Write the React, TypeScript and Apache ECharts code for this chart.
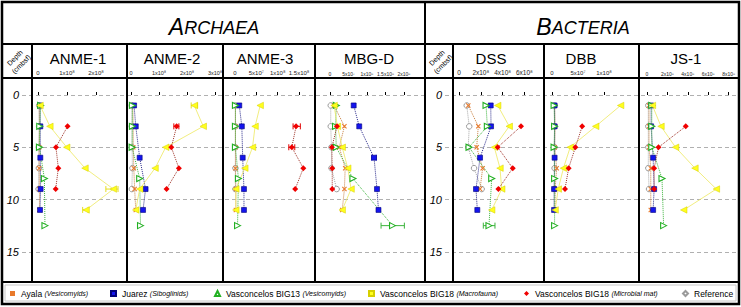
import React, { useEffect, useRef } from "react";
import * as echarts from "echarts";

// ---------- DATA ----------
const SITES = [
  "Ayala (Vesicomyids)",
  "Juarez (Siboglinids)",
  "Vasconcelos BIG13 (Vesicomyids)",
  "Vasconcelos BIG18 (Macrofauna)",
  "Vasconcelos BIG18 (Microbial mat)",
  "Reference",
];

// sampling depths (cmbsf) per site
const DEPTH_AYALA = [1, 3, 5, 7, 9, 11];
const DEPTH_JUAREZ = [1, 3, 6, 9, 11];
const DEPTH_BIG13 = [1, 3, 5, 8, 12.5];
const DEPTH_BIG18_MACRO = [1, 3, 5, 7, 9, 11];
const DEPTH_BIG18_MAT = [3, 5, 7, 9];
const DEPTH_REFERENCE = [1, 3, 5, 7, 9];
const SITE_DEPTHS = [DEPTH_AYALA, DEPTH_JUAREZ, DEPTH_BIG13, DEPTH_BIG18_MACRO, DEPTH_BIG18_MAT, DEPTH_REFERENCE];

const PANEL_NAMES = ["ANME-1", "ANME-2", "ANME-3", "MBG-D", "DSS", "DBB", "JS-1"];
const GROUP_NAMES = ["ARCHAEA", "BACTERIA"];

// gene copies per panel, rows in SITES order, values at SITE_DEPTHS
const ANME1 = [
  [0.04e8, 0.05e8, 0.04e8, 0.04e8, 0.05e8, 0.05e8],
  [0.07e8, 0.08e8, 0.08e8, 0.09e8, 0.07e8],
  [0.09e8, 0.06e8, 0.05e8, 0.22e8, 0.24e8],
  [0.07e8, 0.41e8, 0.99e8, 1.62e8, 2.6e8, 1.66e8],
  [1.02e8, 0.62e8, 0.7e8, 0.61e8],
  [0.04e8, 0.04e8, 0.03e8, 0.03e8, 0.02e8],
];
const ANME2 = [
  [0.06e8, 0.08e8, 0.08e8, 0.1e8, 0.13e8, 0.17e8],
  [0.11e8, 0.17e8, 0.31e8, 0.52e8, 0.43e8],
  [0.05e8, 0.05e8, 0.04e8, 0.31e8, 0.34e8],
  [2.26e8, 2.58e8, 1.24e8, 0.86e8, 0.31e8, 0.17e8],
  [1.63e8, 1.44e8, 1.71e8, 1.27e8],
  [0.03e8, 0.03e8, 0.04e8, 0.05e8, 0.03e8],
];
const ANME3 = [
  [0.01e8, 0.01e8, 0.01e8, 0.01e8, 0.02e8, 0.02e8],
  [0.1e8, 0.16e8, 0.18e8, 0.21e8, 0.21e8],
  [0.01e8, 0.01e8, 0.01e8, 0.08e8, 0.06e8],
  [0.59e8, 0.47e8, 0.41e8, 0.23e8, 0.02e8, 0.02e8],
  [1.43e8, 1.33e8, 1.6e8, 1.41e8],
  [0.01e8, 0.01e8, 0.01e8, 0.01e8, 0.01e8],
];
const MBGD = [
  [0.11e8, 0.39e8, 0.25e8, 0.41e8, 0.39e8, 0.33e8],
  [0.64e8, 0.79e8, 1.19e8, 1.27e8, 1.31e8],
  [0.17e8, 0.15e8, 0.17e8, 0.62e8, 1.69e8],
  [0.11e8, 0.2e8, 0.33e8, 0.48e8, 0.57e8, 0.33e8],
  [0.19e8, 0.05e8, 0.06e8, 0.06e8],
  [0.02e8, 0.02e8, 0.04e8, 0.04e8, 0.18e8],
];
const DSS = [
  [0.85e8, 1.77e8, 1.62e8, 2.17e8, 1.93e8, null],
  [2.91e8, 2.94e8, 1.93e8, 1.56e8, 1.68e8],
  [2.48e8, 2.6e8, 0.92e8, 3.0e8, 2.75e8],
  [3.55e8, 4.61e8, 3.24e8, 3.76e8, 3.92e8, 3.0e8],
  [5.69e8, 3.55e8, 4.93e8, 3.61e8],
  [0.71e8, 0.94e8, 0.85e8, 1.38e8, 2.08e8],
];
const DBB = [
  [0.05e8, 0.06e8, 0.05e8, 0.09e8, 0.06e8, 0.06e8],
  [0.05e8, 0.05e8, 0.05e8, 0.04e8, 0.04e8],
  [0.04e8, 0.05e8, 0.04e8, 0.05e8, 0.05e8],
  [1.32e8, 0.84e8, 0.35e8, 0.22e8, 0.12e8, 0.06e8],
  [0.58e8, 0.45e8, 0.32e8, 0.25e8],
  [0.05e8, 0.05e8, 0.05e8, 0.05e8, 0.05e8],
];
const JS1 = [
  [0.2e8, 0.2e8, 0.2e8, 0.37e8, 0.37e8, 0.37e8],
  [0.4e8, 0.4e8, 0.6e8, 0.7e8, 0.6e8],
  [0.47e8, 0.47e8, 0.47e8, 1.47e8, 1.63e8],
  [0.53e8, 1.37e8, 2.8e8, 4.7e8, 6.8e8, 3.6e8],
  [3.8e8, 1.13e8, 0.7e8, 0.7e8],
  [0.13e8, 0.13e8, 0.13e8, 0.13e8, 0.2e8],
];
const PANEL_DATA = [ANME1, ANME2, ANME3, MBGD, DSS, DBB, JS1];

// error bars: [site index, depth, low, high]
const ANME1_ERR = [[3, 9, 2.34e8, 2.76e8], [3, 11, 1.54e8, 1.73e8]];
const ANME2_ERR = [[3, 1, 2.15e8, 2.38e8], [4, 3, 1.53e8, 1.71e8]];
const ANME3_ERR = [[4, 3, 1.36e8, 1.53e8], [4, 5, 1.26e8, 1.4e8]];
const MBGD_ERR = [[1, 6, 1.13e8, 1.25e8], [2, 12.5, 1.38e8, 2.01e8]];
const DSS_ERR = [[2, 12.5, 2.23e8, 3.3e8]];
const DBB_ERR: number[][] = [];
const JS1_ERR: number[][] = [];
const PANEL_ERR = [ANME1_ERR, ANME2_ERR, ANME3_ERR, MBGD_ERR, DSS_ERR, DBB_ERR, JS1_ERR];

// x-axis tick values
const ANME1_TICKS = [0, 1e8, 2e8];
const ANME2_TICKS = [0, 1e8, 2e8, 3e8];
const ANME3_TICKS = [0, 5e7, 1e8, 1.5e8];
const MBGD_TICKS = [0, 5e7, 1e8, 1.5e8, 2e8];
const DSS_TICKS = [0, 2e8, 4e8, 6e8];
const DBB_TICKS = [0, 5e7, 1e8];
const JS1_TICKS = [0, 2e8, 4e8, 6e8, 8e8];
const PANEL_TICKS = [ANME1_TICKS, ANME2_TICKS, ANME3_TICKS, MBGD_TICKS, DSS_TICKS, DBB_TICKS, JS1_TICKS];

// ---------- LAYOUT ----------
// left/right border, pixel of value 0, pixels per 1e8, title centre, tick font
const PANEL_LAYOUT = [
  { left: 32, right: 127, x0: 38, ppu: 29, tx: 78, fs: 6 },
  { left: 127, right: 223, x0: 131, ppu: 28, tx: 172, fs: 5.5 },
  { left: 223, right: 315, x0: 235, ppu: 42.7, tx: 265, fs: 6 },
  { left: 315, right: 425, x0: 330, ppu: 37, tx: 369, fs: 5 },
  { left: 453, right: 544, x0: 459, ppu: 10.9, tx: 491, fs: 6.5 },
  { left: 544, right: 639, x0: 552, ppu: 52, tx: 581, fs: 6 },
  { left: 639, right: 739, x0: 647, ppu: 10.2, tx: 686, fs: 5 },
];
const W = 741;
const H = 307;
const PLOT_TOP = 95;
const PLOT_H = 156.75;
const FONT = "'Liberation Sans', Arial, sans-serif";
const LEGEND_LEFT = [10, 110, 214, 368, 524, 682];
const LEGEND_ICONS = ["rect", "rect", "triangle", "rect", "diamond", "diamond"];

const XPATH = "path://M0,1.5L1.5,0L5,3.5L8.5,0L10,1.5L6.5,5L10,8.5L8.5,10L5,6.5L1.5,10L0,8.5L3.5,5Z";
const SITE_STYLE = [
  { symbol: XPATH, size: 5, rotate: 0, item: { color: "#E8792B" }, line: { color: "#C8803F", type: "dotted", width: 1 } },
  { symbol: "rect", size: 5, rotate: 0, item: { color: "#1414EE", borderColor: "#00007A", borderWidth: 0.6 }, line: { color: "#2B2B8C", type: "dotted", width: 1 } },
  { symbol: "triangle", size: 6, rotate: -90, item: { color: "#ffffff", borderColor: "#22B022", borderWidth: 1.1 }, line: { color: "#3CB43C", type: "dotted", width: 1 } },
  { symbol: "triangle", size: 6.5, rotate: 90, item: { color: "#FFFF1E", borderColor: "#D6CF00", borderWidth: 0.5 }, line: { color: "#EEE860", type: "solid", width: 0.8 } },
  { symbol: "diamond", size: 6, rotate: 0, item: { color: "#F00000" }, line: { color: "#A0342A", type: "dotted", width: 1 } },
  { symbol: "circle", size: 5.5, rotate: 0, item: { color: "#ffffff", borderColor: "#9A9A9A", borderWidth: 1 }, line: { color: "#A8A8A8", type: "dotted", width: 1 } },
];
const ERR_COLORS = ["#E8792B", "#1414EE", "#3CB43C", "#E6DE20", "#E00000", "#999999"];

const SUP: Record<string, string> = { "0": "⁰", "1": "¹", "2": "²", "3": "³", "4": "⁴", "5": "⁵", "6": "⁶", "7": "⁷", "8": "⁸", "9": "⁹" };
function sci(v: number): string {
  if (v === 0) return "0";
  const e = Math.floor(Math.log10(v) + 1e-9);
  const m = +(v / Math.pow(10, e)).toFixed(2);
  return `${m}x10${String(e).split("").map((c) => SUP[c]).join("")}`;
}

function buildOption() {
  const grid: any[] = [];
  const xAxis: any[] = [];
  const yAxis: any[] = [];
  const series: any[] = [];

  // background grids carrying the depth axes and dashed lines
  const bg = [
    { left: 22, right: W - 425 },
    { left: 445, right: W - 739 },
  ];
  bg.forEach((b, i) => {
    grid.push({ left: b.left, right: b.right, top: PLOT_TOP, height: PLOT_H });
    xAxis.push({ gridIndex: i, type: "value", min: 0, max: 1, show: false });
    yAxis.push({
      gridIndex: i,
      type: "value",
      inverse: true,
      min: 0,
      max: 15,
      interval: 5,
      axisLine: { show: false },
      axisTick: { show: false },
      axisLabel: { fontStyle: "italic", fontSize: 11, color: "#000", margin: 3, fontFamily: FONT },
      splitLine: { show: true, lineStyle: { color: "#B0B0B0", type: [4, 3], width: 1 } },
    });
    series.push({ type: "scatter", xAxisIndex: i, yAxisIndex: i, data: [], silent: true });
  });

  PANEL_LAYOUT.forEach((p, k) => {
    const gi = k + 2;
    const unit = 1e8 / p.ppu;
    grid.push({ left: p.left, width: p.right - p.left, top: PLOT_TOP, height: PLOT_H });
    xAxis.push({
      gridIndex: gi,
      type: "value",
      position: "top",
      offset: PLOT_TOP - 78,
      min: -(p.x0 - p.left) * unit,
      max: (p.right - p.x0) * unit,
      axisLine: { show: false },
      axisTick: { show: true, length: 3, lineStyle: { color: "#000", width: 1 }, customValues: PANEL_TICKS[k] },
      axisLabel: {
        show: true,
        customValues: PANEL_TICKS[k],
        hideOverlap: false,
        formatter: (v: number) => sci(v),
        fontSize: p.fs,
        color: "#222",
        margin: 2,
        fontFamily: FONT,
      },
      splitLine: { show: false },
    });
    yAxis.push({ gridIndex: gi, type: "value", inverse: true, min: 0, max: 15, show: false });

    PANEL_DATA[k].forEach((vals, s) => {
      const st = SITE_STYLE[s];
      const data = SITE_DEPTHS[s]
        .map((d, i) => [vals[i], d])
        .filter((pt) => pt[0] !== null && pt[0] !== undefined);
      series.push({
        type: "line",
        name: SITES[s],
        xAxisIndex: gi,
        yAxisIndex: gi,
        data,
        symbol: st.symbol,
        symbolSize: st.size,
        symbolRotate: st.rotate,
        showAllSymbol: true,
        itemStyle: st.item,
        lineStyle: st.line,
        z: s === 5 ? 2 : 3,
      });
    });

    const err = PANEL_ERR[k];
    if (err.length) {
      series.push({
        type: "custom",
        name: "error",
        xAxisIndex: gi,
        yAxisIndex: gi,
        data: err.map((e) => [e[2], e[3], e[1], e[0]]),
        encode: { x: [0, 1], y: 2 },
        z: 2,
        renderItem: (params: any, api: any) => {
          const a = api.coord([api.value(0), api.value(2)]);
          const b = api.coord([api.value(1), api.value(2)]);
          const c = ERR_COLORS[api.value(3)];
          const style = { stroke: c, lineWidth: 1 };
          return {
            type: "group",
            children: [
              { type: "line", shape: { x1: a[0], y1: a[1], x2: b[0], y2: b[1] }, style },
              { type: "line", shape: { x1: a[0], y1: a[1] - 3, x2: a[0], y2: a[1] + 3 }, style },
              { type: "line", shape: { x1: b[0], y1: b[1] - 3, x2: b[0], y2: b[1] + 3 }, style },
            ],
          };
        },
      });
    }
  });

  const border = { stroke: "#000", lineWidth: 2 };
  const ln = (x1: number, y1: number, x2: number, y2: number) => ({
    type: "line",
    z: 50,
    shape: { x1, y1, x2, y2 },
    style: border,
  });
  const graphic: any[] = [
    { type: "rect", z: 50, shape: { x: 2, y: 2, width: 737, height: 302 }, style: { fill: "none", stroke: "#000", lineWidth: 2.5 } },
    { type: "rect", z: 49, shape: { x: 5, y: 285, width: 731, height: 16 }, style: { fill: "none", stroke: "#C8C8C8", lineWidth: 1 } },
    ln(2, 44, 739, 44),
    ln(2, 78, 739, 78),
    ln(2, 282, 739, 282),
    ln(425, 2, 425, 282),
    ln(32, 44, 32, 282),
    ln(453, 44, 453, 282),
  ];
  PANEL_LAYOUT.forEach((p) => {
    if (p.right !== 739 && p.right !== 425) graphic.push(ln(p.right, 44, p.right, 282));
  });
  // group headers
  const headerX = [214, 583];
  GROUP_NAMES.forEach((g, i) => {
    graphic.push({
      type: "text",
      z: 51,
      x: headerX[i],
      y: 25,
      style: {
        text: `{a|${g[0]}}{b|${g.slice(1)}}`,
        align: "center",
        verticalAlign: "middle",
        fill: "#000",
        rich: {
          a: { fontSize: 23, fontStyle: "italic", fontFamily: FONT, lineHeight: 26, verticalAlign: "bottom" },
          b: { fontSize: 18, fontStyle: "italic", fontFamily: FONT, lineHeight: 26, verticalAlign: "bottom", padding: [0, 0, 1, 0] },
        },
      },
    });
  });
  // panel titles
  PANEL_LAYOUT.forEach((p, k) => {
    graphic.push({
      type: "text",
      z: 51,
      x: p.tx,
      y: 58,
      style: { text: PANEL_NAMES[k], align: "center", verticalAlign: "middle", fontSize: 15, fontFamily: FONT, fill: "#000" },
    });
  });
  // depth headers
  [18, 440].forEach((x) => {
    graphic.push({
      type: "text",
      z: 51,
      x,
      y: 61,
      rotation: Math.PI / 4,
      style: { text: "Depth\n(cmbsf)", align: "center", verticalAlign: "middle", fontSize: 7, lineHeight: 9, fontFamily: FONT, fill: "#000" },
    });
  });

  const legend = SITES.map((name, i) => ({
    data: [{ name, icon: LEGEND_ICONS[i] }],
    left: LEGEND_LEFT[i],
    top: 289,
    padding: 0,
    itemWidth: 5,
    itemHeight: 5,
    itemGap: 0,
    selectedMode: false,
    formatter: (n: string) => {
      const k = n.indexOf(" (");
      if (k < 0) return n;
      return `${n.slice(0, k)} {i|${n.slice(k + 1)}}`;
    },
    textStyle: {
      fontFamily: FONT,
      fontSize: 8.5,
      color: "#000",
      padding: [0, 0, 0, 1],
      rich: { i: { fontFamily: FONT, fontSize: 7, fontStyle: "italic", color: "#000" } },
    },
  }));

  return {
    animation: false,
    backgroundColor: "#ffffff",
    textStyle: { fontFamily: FONT },
    grid,
    xAxis,
    yAxis,
    series,
    legend,
    graphic,
  };
}

export default function App() {
  const ref = useRef<HTMLDivElement>(null);
  useEffect(() => {
    document.body.style.margin = "0";
    if (!ref.current) return;
    const chart = echarts.init(ref.current, null, { renderer: "svg" });
    chart.setOption(buildOption() as any);
    return () => chart.dispose();
  }, []);
  return <div ref={ref} style={{ width: W, height: H, position: "absolute", left: 0, top: 0 }} />;
}
